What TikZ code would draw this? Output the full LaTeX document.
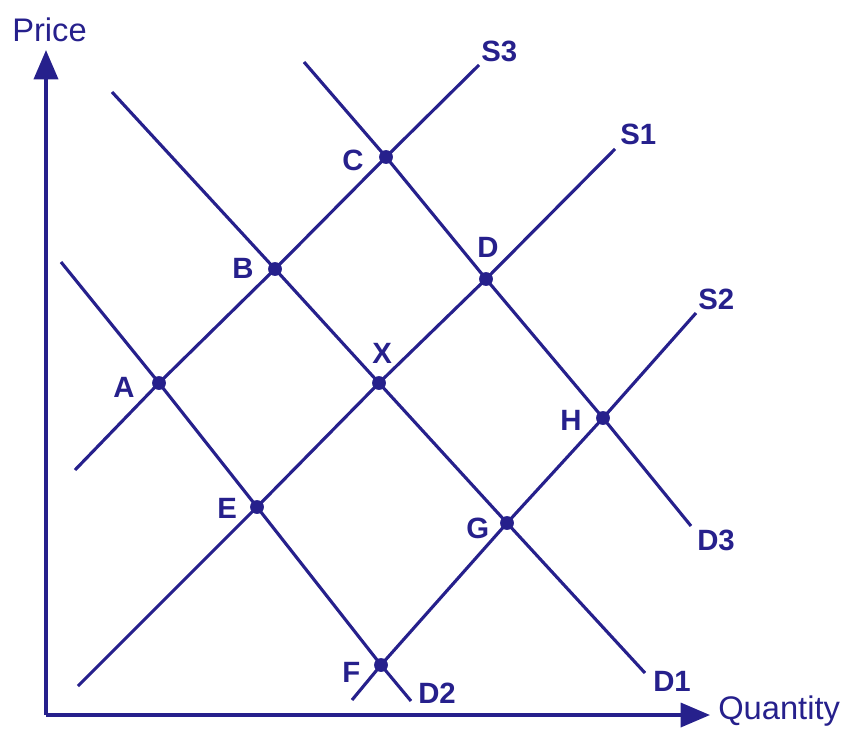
\documentclass[tikz,border=0pt]{standalone}
\usepackage{fontspec}
\setmainfont{Liberation Sans}
\usetikzlibrary{arrows.meta}
\definecolor{ink}{RGB}{38,32,140}
\begin{document}
\begin{tikzpicture}[x=0.75pt,y=-0.75pt,
  curve/.style={draw=ink,line width=2.35pt},
  axis/.style={draw=ink,line width=2.7pt,-{Triangle[length=22pt,width=18pt]}},
  dot/.style={circle,fill=ink,inner sep=0pt,minimum size=10pt},
  lbl/.style={text=ink,font=\fontsize{22pt}{24pt}\selectfont\bfseries,anchor=base west,inner sep=0pt},
  axlbl/.style={text=ink,font=\fontsize{24.5pt}{28pt}\selectfont,inner sep=0pt}]
\useasboundingbox (0,0) rectangle (848,731);
% axes
\coordinate (O) at (46,715);
\coordinate (ytip) at (46,50);
\coordinate (xtip) at (710,715);
\draw[axis] (O) -- (ytip);
\draw[axis] (O) -- (xtip);
\node[axlbl,anchor=base west] (price) at (12,42) {Price};
\node[axlbl,anchor=base west] (qty) at (718,719) {Quantity};
% intersection points
\node[dot] (A) at (159,383) {};
\node[dot] (B) at (275,269) {};
\node[dot] (C) at (386,157) {};
\node[dot] (D) at (486,279) {};
\node[dot] (X) at (379,383) {};
\node[dot] (E) at (257,507) {};
\node[dot] (F) at (381,665) {};
\node[dot] (G) at (507,523) {};
\node[dot] (H) at (603,418) {};
% line ends
\coordinate (s3a) at (75,470);  \coordinate (s3b) at (479,65);
\coordinate (s1a) at (78,686);  \coordinate (s1b) at (615,149);
\coordinate (s2a) at (352,700); \coordinate (s2b) at (696,313);
\coordinate (d2a) at (61,262);  \coordinate (d2b) at (411,701);
\coordinate (d1a) at (112,92);  \coordinate (d1b) at (645,673);
\coordinate (d3a) at (304,62);  \coordinate (d3b) at (691,526);
% curves
\draw[curve] (s3a) -- (A.center) -- (B.center) -- (C.center) -- (s3b);
\draw[curve] (s1a) -- (E.center) -- (X.center) -- (D.center) -- (s1b);
\draw[curve] (s2a) -- (F.center) -- (G.center) -- (H.center) -- (s2b);
\draw[curve] (d2a) -- (A.center) -- (E.center) -- (F.center) -- (d2b);
\draw[curve] (d1a) -- (B.center) -- (X.center) -- (G.center) -- (d1b);
\draw[curve] (d3a) -- (C.center) -- (D.center) -- (H.center) -- (d3b);
% redraw dots on top
\foreach \p in {A,B,C,D,X,E,F,G,H} \fill[ink] (\p.center) circle[radius=5.1pt];
% labels
\node[lbl] (lS3) at (481,62) {S3};
\node[lbl] (lS1) at (620,145) {S1};
\node[lbl] (lS2) at (698,309) {S2};
\node[lbl] (lD3) at (697,550) {D3};
\node[lbl] (lD1) at (653,691) {D1};
\node[lbl] (lD2) at (418,703) {D2};
\node[lbl] (lA) at (113,397) {A};
\node[lbl] (lB) at (232,278) {B};
\node[lbl] (lC) at (342,170) {C};
\node[lbl] (lD) at (477,257) {D};
\node[lbl] (lX) at (372,363) {X};
\node[lbl] (lE) at (217,518) {E};
\node[lbl] (lF) at (342,682) {F};
\node[lbl] (lG) at (466,538) {G};
\node[lbl] (lH) at (560,430) {H};
\end{tikzpicture}
\end{document}
